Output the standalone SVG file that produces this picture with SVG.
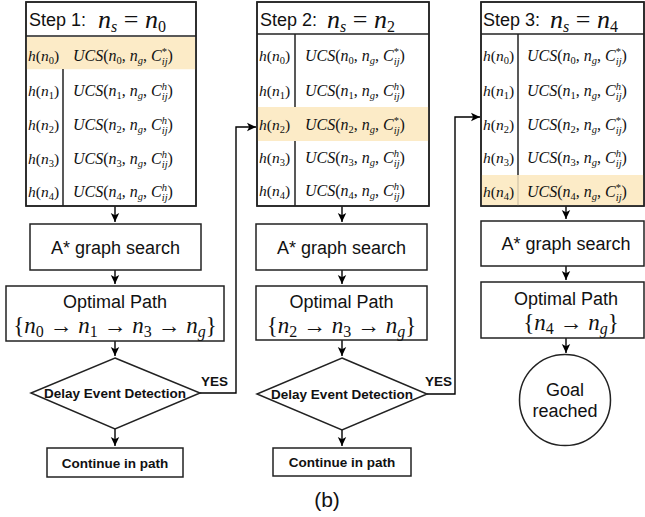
<svg xmlns="http://www.w3.org/2000/svg" width="645" height="517" viewBox="0 0 645 517">
<style>
.box{fill:#fff;stroke:#222;stroke-width:1.5}
.ln{stroke:#222;stroke-width:1.5;fill:none}
.hl{fill:#fcebc7;stroke:none}
.con{stroke:#000;stroke-width:1.4;fill:none}
.lbl{font-family:"Liberation Sans",Arial,sans-serif;font-size:18px;fill:#111;text-anchor:middle}
.st{font-family:"Liberation Sans",Arial,sans-serif;font-size:18px;fill:#111}
.b{font-family:"Liberation Sans",Arial,sans-serif;font-size:13.5px;font-weight:bold;fill:#111}
.m{font-family:"Liberation Serif","DejaVu Serif",serif;font-size:15.5px;fill:#111}
.u{font-family:"Liberation Serif","DejaVu Serif",serif;font-size:16px;fill:#111}
.mh{font-family:"Liberation Serif","DejaVu Serif",serif;font-size:26px;fill:#111}
.mp{font-family:"Liberation Serif","DejaVu Serif",serif;font-size:23px;fill:#111;text-anchor:middle}
.i{font-style:italic}
.sb{font-size:10.5px}
.sh{font-size:16px}
</style>
<defs>
<marker id="ah" markerUnits="userSpaceOnUse" markerWidth="10" markerHeight="10" refX="9" refY="5" orient="auto">
<path d="M0,0.8 L9,5 L0,9.2 L2.2,5 Z" fill="#000"/>
</marker>
</defs>

<g id="connectors">
<path class="con" d="M115,206 V222" marker-end="url(#ah)"/>
<path class="con" d="M115,270 V284" marker-end="url(#ah)"/>
<path class="con" d="M115,341 V356" marker-end="url(#ah)"/>
<path class="con" d="M115,429 V446" marker-end="url(#ah)"/>
<path class="con" d="M200,393 H236 V127 H256" marker-end="url(#ah)"/>
<path class="con" d="M342,206 V222" marker-end="url(#ah)"/>
<path class="con" d="M342,270 V284" marker-end="url(#ah)"/>
<path class="con" d="M342,340 V356" marker-end="url(#ah)"/>
<path class="con" d="M342,430 V446" marker-end="url(#ah)"/>
<path class="con" d="M427,394 H455 V117 H480" marker-end="url(#ah)"/>
<path class="con" d="M566,206 V219" marker-end="url(#ah)"/>
<path class="con" d="M566,266 V280" marker-end="url(#ah)"/>
<path class="con" d="M566,338 V353" marker-end="url(#ah)"/>
</g>

<g id="table1">
<rect class="box" x="26" y="2" width="170" height="204"/>
<rect class="hl" x="26.75" y="36.75" width="168.5" height="32.5"/>
<line class="ln" x1="63" y1="69" x2="63" y2="206"/>
<rect class="ln" x="26" y="2" width="170" height="204"/>
<line class="ln" x1="26" y1="36" x2="196" y2="36"/>
<text class="st" x="29" y="26">Step 1:</text>
<text class="mh" x="98" y="28"><tspan class="i">n</tspan><tspan class="sh i" dy="4">s</tspan><tspan dy="-4"> = </tspan><tspan class="i">n</tspan><tspan class="sh" dy="4">0</tspan></text>
<text class="m" x="28" y="61"><tspan class="i">h</tspan>(<tspan class="i">n</tspan><tspan class="sb" dy="3">0</tspan><tspan dy="-3">)</tspan></text>
<text class="u" x="73" y="61"><tspan class="i">UCS</tspan>(<tspan class="i">n</tspan><tspan class="sb" dy="3">0</tspan><tspan dy="-3">, </tspan><tspan class="i">n</tspan><tspan class="sb i" dy="3">g</tspan><tspan dy="-3">, </tspan><tspan class="i">C</tspan><tspan class="sb" dy="-6">*</tspan><tspan class="sb i" dx="-5.25" dy="10">ij</tspan><tspan dy="-4">)</tspan></text>
<text class="m" x="28" y="96"><tspan class="i">h</tspan>(<tspan class="i">n</tspan><tspan class="sb" dy="3">1</tspan><tspan dy="-3">)</tspan></text>
<text class="u" x="73" y="96"><tspan class="i">UCS</tspan>(<tspan class="i">n</tspan><tspan class="sb" dy="3">1</tspan><tspan dy="-3">, </tspan><tspan class="i">n</tspan><tspan class="sb i" dy="3">g</tspan><tspan dy="-3">, </tspan><tspan class="i">C</tspan><tspan class="sb i" dy="-6">h</tspan><tspan class="sb i" dx="-5.25" dy="10">ij</tspan><tspan dy="-4">)</tspan></text>
<text class="m" x="28" y="130"><tspan class="i">h</tspan>(<tspan class="i">n</tspan><tspan class="sb" dy="3">2</tspan><tspan dy="-3">)</tspan></text>
<text class="u" x="73" y="130"><tspan class="i">UCS</tspan>(<tspan class="i">n</tspan><tspan class="sb" dy="3">2</tspan><tspan dy="-3">, </tspan><tspan class="i">n</tspan><tspan class="sb i" dy="3">g</tspan><tspan dy="-3">, </tspan><tspan class="i">C</tspan><tspan class="sb i" dy="-6">h</tspan><tspan class="sb i" dx="-5.25" dy="10">ij</tspan><tspan dy="-4">)</tspan></text>
<text class="m" x="28" y="164"><tspan class="i">h</tspan>(<tspan class="i">n</tspan><tspan class="sb" dy="3">3</tspan><tspan dy="-3">)</tspan></text>
<text class="u" x="73" y="164"><tspan class="i">UCS</tspan>(<tspan class="i">n</tspan><tspan class="sb" dy="3">3</tspan><tspan dy="-3">, </tspan><tspan class="i">n</tspan><tspan class="sb i" dy="3">g</tspan><tspan dy="-3">, </tspan><tspan class="i">C</tspan><tspan class="sb i" dy="-6">h</tspan><tspan class="sb i" dx="-5.25" dy="10">ij</tspan><tspan dy="-4">)</tspan></text>
<text class="m" x="28" y="197"><tspan class="i">h</tspan>(<tspan class="i">n</tspan><tspan class="sb" dy="3">4</tspan><tspan dy="-3">)</tspan></text>
<text class="u" x="73" y="197"><tspan class="i">UCS</tspan>(<tspan class="i">n</tspan><tspan class="sb" dy="3">4</tspan><tspan dy="-3">, </tspan><tspan class="i">n</tspan><tspan class="sb i" dy="3">g</tspan><tspan dy="-3">, </tspan><tspan class="i">C</tspan><tspan class="sb i" dy="-6">h</tspan><tspan class="sb i" dx="-5.25" dy="10">ij</tspan><tspan dy="-4">)</tspan></text>
</g>

<g id="astar1"><rect class="box" x="30" y="224" width="171" height="46"/><text class="lbl" x="115.5" y="253.5">A* graph search</text></g>
<g id="path1"><rect class="box" x="6" y="286" width="218" height="55"/><text class="lbl" x="115" y="308">Optimal Path</text>
<text class="mp" x="115" y="333">{<tspan class="i">n</tspan><tspan class="sh" dy="4">0</tspan><tspan dy="-4"> → </tspan><tspan class="i">n</tspan><tspan class="sh" dy="4">1</tspan><tspan dy="-4"> → </tspan><tspan class="i">n</tspan><tspan class="sh" dy="4">3</tspan><tspan dy="-4"> → </tspan><tspan class="i">n</tspan><tspan class="sh i" dy="4">g</tspan><tspan dy="-4">}</tspan></text></g>
<g id="delay1"><polygon class="box" points="115,358 200,393 115,429 31,393"/><text class="b" x="115" y="398" text-anchor="middle">Delay Event Detection</text><text class="b" x="201" y="386">YES</text></g>
<g id="cont1"><rect class="box" x="47" y="448" width="136" height="29"/><text class="b" x="115" y="468" text-anchor="middle">Continue in path</text></g>

<g id="table2">
<rect class="box" x="257" y="2" width="172" height="204"/>
<line class="ln" x1="295" y1="34" x2="295" y2="206"/>
<rect class="hl" x="257.75" y="107" width="170.5" height="34"/>
<rect class="ln" x="257" y="2" width="172" height="204"/>
<line class="ln" x1="257" y1="34" x2="429" y2="34"/>
<text class="st" x="260" y="26">Step 2:</text>
<text class="mh" x="327" y="28"><tspan class="i">n</tspan><tspan class="sh i" dy="4">s</tspan><tspan dy="-4"> = </tspan><tspan class="i">n</tspan><tspan class="sh" dy="4">2</tspan></text>
<text class="m" x="259" y="61"><tspan class="i">h</tspan>(<tspan class="i">n</tspan><tspan class="sb" dy="3">0</tspan><tspan dy="-3">)</tspan></text>
<text class="u" x="305" y="61"><tspan class="i">UCS</tspan>(<tspan class="i">n</tspan><tspan class="sb" dy="3">0</tspan><tspan dy="-3">, </tspan><tspan class="i">n</tspan><tspan class="sb i" dy="3">g</tspan><tspan dy="-3">, </tspan><tspan class="i">C</tspan><tspan class="sb" dy="-6">*</tspan><tspan class="sb i" dx="-5.25" dy="10">ij</tspan><tspan dy="-4">)</tspan></text>
<text class="m" x="259" y="96"><tspan class="i">h</tspan>(<tspan class="i">n</tspan><tspan class="sb" dy="3">1</tspan><tspan dy="-3">)</tspan></text>
<text class="u" x="305" y="96"><tspan class="i">UCS</tspan>(<tspan class="i">n</tspan><tspan class="sb" dy="3">1</tspan><tspan dy="-3">, </tspan><tspan class="i">n</tspan><tspan class="sb i" dy="3">g</tspan><tspan dy="-3">, </tspan><tspan class="i">C</tspan><tspan class="sb i" dy="-6">h</tspan><tspan class="sb i" dx="-5.25" dy="10">ij</tspan><tspan dy="-4">)</tspan></text>
<text class="m" x="259" y="130"><tspan class="i">h</tspan>(<tspan class="i">n</tspan><tspan class="sb" dy="3">2</tspan><tspan dy="-3">)</tspan></text>
<text class="u" x="305" y="130"><tspan class="i">UCS</tspan>(<tspan class="i">n</tspan><tspan class="sb" dy="3">2</tspan><tspan dy="-3">, </tspan><tspan class="i">n</tspan><tspan class="sb i" dy="3">g</tspan><tspan dy="-3">, </tspan><tspan class="i">C</tspan><tspan class="sb" dy="-6">*</tspan><tspan class="sb i" dx="-5.25" dy="10">ij</tspan><tspan dy="-4">)</tspan></text>
<text class="m" x="259" y="163"><tspan class="i">h</tspan>(<tspan class="i">n</tspan><tspan class="sb" dy="3">3</tspan><tspan dy="-3">)</tspan></text>
<text class="u" x="305" y="163"><tspan class="i">UCS</tspan>(<tspan class="i">n</tspan><tspan class="sb" dy="3">3</tspan><tspan dy="-3">, </tspan><tspan class="i">n</tspan><tspan class="sb i" dy="3">g</tspan><tspan dy="-3">, </tspan><tspan class="i">C</tspan><tspan class="sb i" dy="-6">h</tspan><tspan class="sb i" dx="-5.25" dy="10">ij</tspan><tspan dy="-4">)</tspan></text>
<text class="m" x="259" y="196"><tspan class="i">h</tspan>(<tspan class="i">n</tspan><tspan class="sb" dy="3">4</tspan><tspan dy="-3">)</tspan></text>
<text class="u" x="305" y="196"><tspan class="i">UCS</tspan>(<tspan class="i">n</tspan><tspan class="sb" dy="3">4</tspan><tspan dy="-3">, </tspan><tspan class="i">n</tspan><tspan class="sb i" dy="3">g</tspan><tspan dy="-3">, </tspan><tspan class="i">C</tspan><tspan class="sb i" dy="-6">h</tspan><tspan class="sb i" dx="-5.25" dy="10">ij</tspan><tspan dy="-4">)</tspan></text>
</g>

<g id="astar2"><rect class="box" x="256" y="224" width="171" height="46"/><text class="lbl" x="341.5" y="253.5">A* graph search</text></g>
<g id="path2"><rect class="box" x="256" y="286" width="171" height="54"/><text class="lbl" x="341.5" y="308">Optimal Path</text>
<text class="mp" x="341.5" y="333">{<tspan class="i">n</tspan><tspan class="sh" dy="4">2</tspan><tspan dy="-4"> → </tspan><tspan class="i">n</tspan><tspan class="sh" dy="4">3</tspan><tspan dy="-4"> → </tspan><tspan class="i">n</tspan><tspan class="sh i" dy="4">g</tspan><tspan dy="-4">}</tspan></text></g>
<g id="delay2"><polygon class="box" points="342,358 427,394 342,430 257,394"/><text class="b" x="342" y="399" text-anchor="middle">Delay Event Detection</text><text class="b" x="425" y="386">YES</text></g>
<g id="cont2"><rect class="box" x="273" y="448" width="138" height="28"/><text class="b" x="342" y="467" text-anchor="middle">Continue in path</text></g>

<g id="table3">
<rect class="box" x="481" y="2" width="163" height="204"/>
<line class="ln" x1="518" y1="34" x2="518" y2="175"/>
<rect class="hl" x="481.75" y="175" width="161.5" height="30.25"/>
<line x1="518" y1="175" x2="518" y2="206" stroke="#cfc2a6" stroke-width="1.2"/>
<rect class="ln" x="481" y="2" width="163" height="204"/>
<line class="ln" x1="481" y1="34" x2="644" y2="34"/>
<text class="st" x="483" y="26">Step 3:</text>
<text class="mh" x="550" y="28"><tspan class="i">n</tspan><tspan class="sh i" dy="4">s</tspan><tspan dy="-4"> = </tspan><tspan class="i">n</tspan><tspan class="sh" dy="4">4</tspan></text>
<text class="m" x="483" y="61"><tspan class="i">h</tspan>(<tspan class="i">n</tspan><tspan class="sb" dy="3">0</tspan><tspan dy="-3">)</tspan></text>
<text class="u" x="527" y="61"><tspan class="i">UCS</tspan>(<tspan class="i">n</tspan><tspan class="sb" dy="3">0</tspan><tspan dy="-3">, </tspan><tspan class="i">n</tspan><tspan class="sb i" dy="3">g</tspan><tspan dy="-3">, </tspan><tspan class="i">C</tspan><tspan class="sb" dy="-6">*</tspan><tspan class="sb i" dx="-5.25" dy="10">ij</tspan><tspan dy="-4">)</tspan></text>
<text class="m" x="483" y="96"><tspan class="i">h</tspan>(<tspan class="i">n</tspan><tspan class="sb" dy="3">1</tspan><tspan dy="-3">)</tspan></text>
<text class="u" x="527" y="96"><tspan class="i">UCS</tspan>(<tspan class="i">n</tspan><tspan class="sb" dy="3">1</tspan><tspan dy="-3">, </tspan><tspan class="i">n</tspan><tspan class="sb i" dy="3">g</tspan><tspan dy="-3">, </tspan><tspan class="i">C</tspan><tspan class="sb i" dy="-6">h</tspan><tspan class="sb i" dx="-5.25" dy="10">ij</tspan><tspan dy="-4">)</tspan></text>
<text class="m" x="483" y="130"><tspan class="i">h</tspan>(<tspan class="i">n</tspan><tspan class="sb" dy="3">2</tspan><tspan dy="-3">)</tspan></text>
<text class="u" x="527" y="130"><tspan class="i">UCS</tspan>(<tspan class="i">n</tspan><tspan class="sb" dy="3">2</tspan><tspan dy="-3">, </tspan><tspan class="i">n</tspan><tspan class="sb i" dy="3">g</tspan><tspan dy="-3">, </tspan><tspan class="i">C</tspan><tspan class="sb" dy="-6">*</tspan><tspan class="sb i" dx="-5.25" dy="10">ij</tspan><tspan dy="-4">)</tspan></text>
<text class="m" x="483" y="163"><tspan class="i">h</tspan>(<tspan class="i">n</tspan><tspan class="sb" dy="3">3</tspan><tspan dy="-3">)</tspan></text>
<text class="u" x="527" y="163"><tspan class="i">UCS</tspan>(<tspan class="i">n</tspan><tspan class="sb" dy="3">3</tspan><tspan dy="-3">, </tspan><tspan class="i">n</tspan><tspan class="sb i" dy="3">g</tspan><tspan dy="-3">, </tspan><tspan class="i">C</tspan><tspan class="sb i" dy="-6">h</tspan><tspan class="sb i" dx="-5.25" dy="10">ij</tspan><tspan dy="-4">)</tspan></text>
<text class="m" x="483" y="197"><tspan class="i">h</tspan>(<tspan class="i">n</tspan><tspan class="sb" dy="3">4</tspan><tspan dy="-3">)</tspan></text>
<text class="u" x="527" y="197"><tspan class="i">UCS</tspan>(<tspan class="i">n</tspan><tspan class="sb" dy="3">4</tspan><tspan dy="-3">, </tspan><tspan class="i">n</tspan><tspan class="sb i" dy="3">g</tspan><tspan dy="-3">, </tspan><tspan class="i">C</tspan><tspan class="sb" dy="-6">*</tspan><tspan class="sb i" dx="-5.25" dy="10">ij</tspan><tspan dy="-4">)</tspan></text>
</g>

<g id="astar3"><rect class="box" x="481" y="221" width="163" height="45"/><text class="lbl" x="566" y="249.5">A* graph search</text></g>
<g id="path3"><rect class="box" x="481" y="282" width="163" height="56"/><text class="lbl" x="566" y="305">Optimal Path</text>
<text class="mp" x="571" y="330">{<tspan class="i">n</tspan><tspan class="sh" dy="4">4</tspan><tspan dy="-4"> → </tspan><tspan class="i">n</tspan><tspan class="sh i" dy="4">g</tspan><tspan dy="-4">}</tspan></text></g>
<g id="goal"><circle class="box" cx="565" cy="400" r="45.5"/><text class="lbl" x="565" y="396">Goal</text><text class="lbl" x="565" y="417">reached</text></g>

<text x="327" y="507" font-family="Liberation Sans, Arial, sans-serif" font-size="21" fill="#111" text-anchor="middle">(b)</text>
</svg>
